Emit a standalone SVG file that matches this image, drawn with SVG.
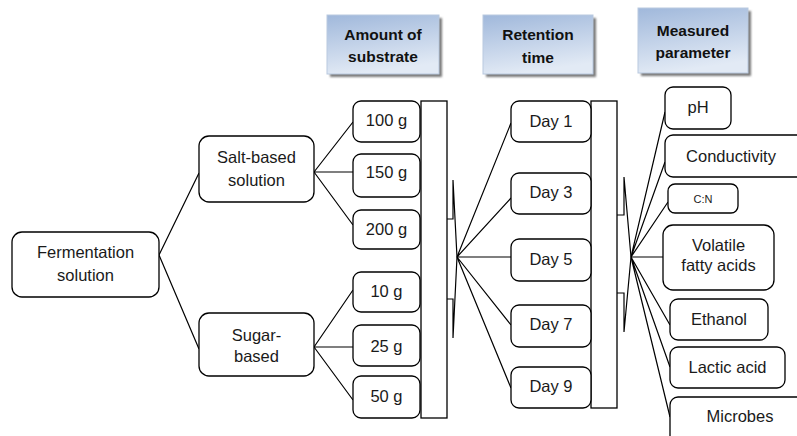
<svg xmlns="http://www.w3.org/2000/svg" width="797" height="436" viewBox="0 0 797 436">
<defs>
<linearGradient id="hg" x1="0" y1="0" x2="0.25" y2="1">
<stop offset="0" stop-color="#a0b8db"/>
<stop offset="1" stop-color="#e2eaf5"/>
</linearGradient>
<filter id="sh" x="-10%" y="-10%" width="130%" height="130%">
<feGaussianBlur stdDeviation="1.2"/>
</filter>
<style>
.n{fill:#fff;stroke:#000;stroke-width:1.3}
.t{font-family:"Liberation Sans",Arial,sans-serif;font-size:16.5px;fill:#1a1a1a;text-anchor:middle}
.h{fill:url(#hg);stroke:#b9c9df;stroke-width:1}
.hs{fill:#7a7a7a;filter:url(#sh)}
.ht{font-family:"Liberation Sans",Arial,sans-serif;font-size:15.5px;font-weight:bold;fill:#111;text-anchor:middle}
.c{fill:none;stroke:#000;stroke-width:1.2}
.b{fill:#fff;stroke:#000;stroke-width:1.3}
</style>
</defs>

<g id="headers">
<g id="h-amount">
<rect class="hs" x="330" y="18" width="112" height="59"/>
<rect class="h" x="327" y="15" width="112" height="59"/>
<text class="ht" x="383" y="40">Amount of</text>
<text class="ht" x="383" y="62">substrate</text>
</g>
<g id="h-retention">
<rect class="hs" x="486" y="18" width="110" height="59"/>
<rect class="h" x="483" y="15" width="110" height="59"/>
<text class="ht" x="538" y="40">Retention</text>
<text class="ht" x="538" y="63">time</text>
</g>
<g id="h-measured">
<rect class="hs" x="641" y="11" width="110" height="65"/>
<rect class="h" x="638" y="8" width="110" height="65"/>
<text class="ht" x="693" y="36">Measured</text>
<text class="ht" x="693" y="58">parameter</text>
</g>
</g>

<g id="connectors">
<path class="c" d="M159,255 L199,173 M159,255 L199,349"/>
<path class="c" d="M314,172 L353,122 M314,172 L353,172 M314,172 L353,225"/>
<path class="c" d="M314,347 L353,290 M314,347 L353,347 M314,347 L353,400"/>
<path class="c" d="M457,257 L511,123 M457,257 L511,198 M457,257 L511,257 M457,257 L511,325 M457,257 L511,388"/>
<path class="c" d="M631,257 L665,112 M631,257 L665,162 M631,257 L668,202 M631,257 L663,257 M631,257 L670,325 M631,257 L670,367 M631,257 L670,417"/>
</g>

<g id="brackets">
<g id="bracket-1">
<rect class="b" x="421" y="101" width="26" height="317"/>
<path class="c" d="M453,180 V219 H447 M453,180 L457,257 L453,338 M447,299 H453 V338"/>
</g>
<g id="bracket-2">
<rect class="b" x="591" y="101" width="26" height="307"/>
<path class="c" d="M624,177 V215 H617 M624,177 L631,257 L624,332 M617,293 H624 V332"/>
</g>
</g>

<g id="n-fermentation"><rect class="n" x="12" y="232" width="147" height="65" rx="10"/><text class="t" x="85.5" y="258">Fermentation</text><text class="t" x="85.5" y="281">solution</text></g>
<g id="n-salt"><rect class="n" x="199" y="136" width="115" height="66" rx="10"/><text class="t" x="256.5" y="163">Salt-based</text><text class="t" x="256.5" y="186">solution</text></g>
<g id="n-sugar"><rect class="n" x="199" y="313" width="115" height="63" rx="10"/><text class="t" x="256.5" y="341">Sugar-</text><text class="t" x="256.5" y="362">based</text></g>

<g id="n-100"><rect class="n" x="353" y="101" width="67" height="41" rx="8"/><text class="t" x="386.5" y="126">100 g</text></g>
<g id="n-150"><rect class="n" x="353" y="154" width="67" height="43" rx="8"/><text class="t" x="386.5" y="178">150 g</text></g>
<g id="n-200"><rect class="n" x="353" y="210" width="67" height="39" rx="8"/><text class="t" x="386.5" y="235">200 g</text></g>
<g id="n-10"><rect class="n" x="353" y="272" width="67" height="40" rx="8"/><text class="t" x="386.5" y="297">10 g</text></g>
<g id="n-25"><rect class="n" x="353" y="325" width="67" height="41" rx="8"/><text class="t" x="386.5" y="352">25 g</text></g>
<g id="n-50"><rect class="n" x="353" y="376" width="67" height="42" rx="8"/><text class="t" x="386.5" y="402">50 g</text></g>

<g id="n-day1"><rect class="n" x="511" y="101" width="80" height="41" rx="8"/><text class="t" x="551" y="127">Day 1</text></g>
<g id="n-day3"><rect class="n" x="511" y="173" width="80" height="41" rx="8"/><text class="t" x="551" y="198">Day 3</text></g>
<g id="n-day5"><rect class="n" x="511" y="239" width="80" height="42" rx="8"/><text class="t" x="551" y="265">Day 5</text></g>
<g id="n-day7"><rect class="n" x="511" y="305" width="80" height="42" rx="8"/><text class="t" x="551" y="330">Day 7</text></g>
<g id="n-day9"><rect class="n" x="511" y="367" width="80" height="41" rx="8"/><text class="t" x="551" y="392">Day 9</text></g>

<g id="n-ph"><rect class="n" x="665" y="87" width="66" height="42" rx="8"/><text class="t" x="698" y="113">pH</text></g>
<g id="n-conductivity"><rect class="n" x="665" y="135" width="140" height="42" rx="8"/><text class="t" x="731" y="162">Conductivity</text></g>
<g id="n-cn"><rect class="n" x="668" y="184" width="70" height="29" rx="7"/><text class="t" x="703" y="203" style="font-size:11px">C:N</text></g>
<g id="n-vfa"><rect class="n" x="663" y="225" width="111" height="65" rx="10"/><text class="t" x="718.5" y="251">Volatile</text><text class="t" x="718.5" y="271">fatty acids</text></g>
<g id="n-ethanol"><rect class="n" x="670" y="299" width="98" height="41" rx="8"/><text class="t" x="719" y="325">Ethanol</text></g>
<g id="n-lactic"><rect class="n" x="670" y="347" width="115" height="41" rx="8"/><text class="t" x="727.5" y="373">Lactic acid</text></g>
<g id="n-microbes"><rect class="n" x="670" y="397" width="150" height="50" rx="8"/><text class="t" x="740" y="422">Microbes</text></g>
</svg>
